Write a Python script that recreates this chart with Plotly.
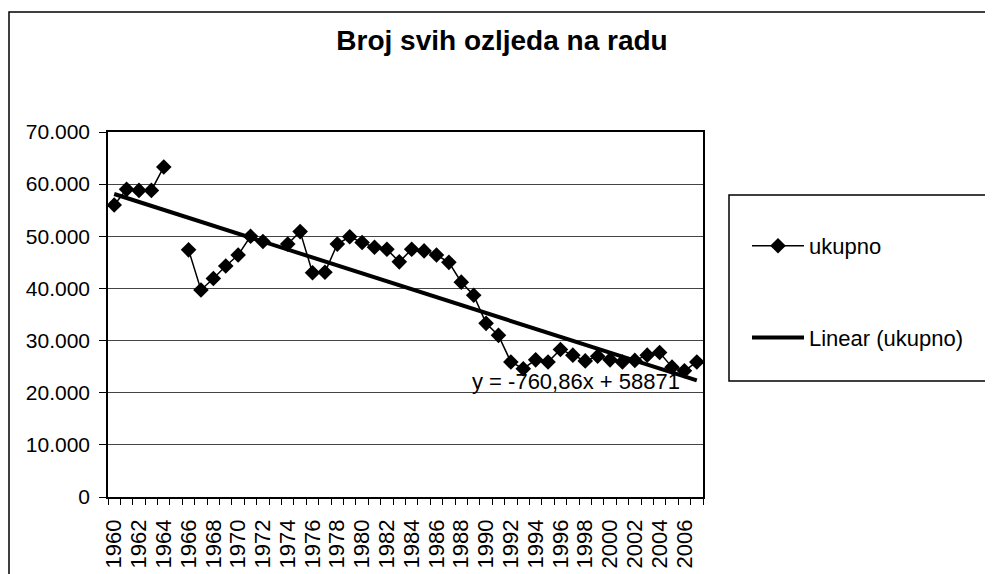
import plotly.graph_objects as go

years = list(range(1960, 2008))
ukupno = [56000, 59000, 58800, 58800, 63300, None, 47400, 39700, 41900, 44300,
          46400, 50000, 49000, None, 48500, 50900, 43000, 43100, 48500, 49900,
          48800, 47900, 47500, 45100, 47500, 47200, 46400, 45000, 41200, 38700,
          33300, 31000, 25900, 24600, 26300, 25900, 28300, 27200, 26100, 27000,
          26300, 25900, 26200, 27200, 27700, 24900, 24200, 25900]
TREND_SLOPE = -760.86
TREND_INTERCEPT = 58871
equation_text = "y = -760,86x + 58871"
title_text = "Broj svih ozljeda na radu"
ytick_vals = [0, 10000, 20000, 30000, 40000, 50000, 60000, 70000]
xtick_years = years[::2]

trend = [TREND_SLOPE * (i + 1) + TREND_INTERCEPT for i in range(len(years))]

FONT = "Liberation Sans, Arial, sans-serif"

fig = go.Figure()
fig.add_trace(go.Scatter(
    x=years, y=ukupno, name="ukupno", mode="lines+markers",
    line=dict(color="black", width=1.5),
    marker=dict(symbol="diamond", size=12, color="black"),
    connectgaps=False, legendgroup="a"))
fig.add_trace(go.Scatter(
    x=years, y=trend, name="Linear (ukupno)", mode="lines",
    line=dict(color="black", width=4), legendgroup="b"))

# screen-pixel helpers (plot area on screen: x 108..703, y 132..497)
def px(xp):
    return (xp - 108) / 595

def py(yp):
    return (497 - yp) / 365

def open_box(x0, x1, y0, y1):
    # left, top and bottom edges only (right side runs off the page)
    return (f"M {px(x1)},{py(y0)} L {px(x0)},{py(y0)} "
            f"L {px(x0)},{py(y1)} L {px(x1)},{py(y1)}")

fig.add_shape(type="path", xref="paper", yref="paper",
              path=open_box(9, 1000, 12, 600),
              line=dict(color="black", width=1.5), layer="below")
fig.add_shape(type="path", xref="paper", yref="paper",
              path=open_box(729, 1000, 195, 381),
              line=dict(color="black", width=1.5))

fig.add_annotation(x=2005.8, y=22200, xref="x", yref="y", text=equation_text,
                   showarrow=False, xanchor="right", yanchor="middle",
                   font=dict(family=FONT, size=22, color="black"))

fig.update_layout(
    width=993, height=574,
    margin=dict(l=100, r=298, t=124, b=85),
    paper_bgcolor="white", plot_bgcolor="white",
    separators=",.",
    title=dict(text=f"<b>{title_text}</b>", x=494 / 993, y=1 - 32 / 574,
               xanchor="center", yanchor="middle",
               font=dict(family=FONT, size=28, color="black")),
    showlegend=True,
    legend=dict(x=px(747), y=py(225), xanchor="left", yanchor="top",
                font=dict(family=FONT, size=22, color="black"),
                bgcolor="rgba(0,0,0,0)", borderwidth=0,
                itemwidth=52, tracegroupgap=60),
    font=dict(family=FONT, color="black"),
)
fig.update_xaxes(
    range=[1959.5, 2007.5], tickmode="array", tickvals=xtick_years,
    ticktext=[str(y) for y in xtick_years], tickangle=-90,
    tickfont=dict(family=FONT, size=22, color="black"),
    ticks="", showgrid=False, zeroline=False, ticklabelstandoff=12,
    showline=True, linecolor="black", linewidth=1.5, mirror=True,
    minor=dict(tickmode="array", tickvals=[1959.5 + i for i in range(49)],
               ticks="outside", ticklen=6, tickcolor="black", tickwidth=1,
               showgrid=False),
)
fig.update_yaxes(
    range=[0, 70000], tickmode="array", tickvals=ytick_vals, tickformat=",d",
    tickfont=dict(family=FONT, size=21, color="black"),
    ticks="outside", ticklen=7, tickcolor="black", ticklabelstandoff=5,
    showgrid=True, gridcolor="#444", gridwidth=1, zeroline=False,
    showline=True, linecolor="black", linewidth=1.5, mirror=True,
)

fig.write_html("out.html")
